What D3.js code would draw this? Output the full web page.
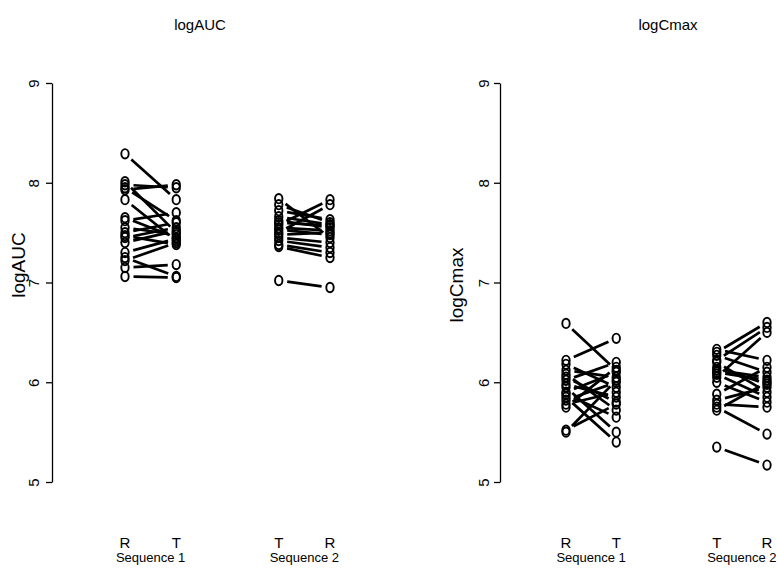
<!DOCTYPE html>
<html>
<head>
<meta charset="utf-8">
<script src="https://cdn.jsdelivr.net/npm/d3@7"></script>
<style>
  body { margin: 0; background: #fff; }
  text { font-family: "Liberation Sans", Arial, sans-serif; fill: #000; }
</style>
</head>
<body>
<svg id="chart" width="778" height="569"></svg>
<script>
// tick values shared by both panels
const yTicks = [5, 6, 7, 8, 9];
const periodLabels = ["R", "T", "T", "R"];
const seqLabels = ["Sequence 1", "Sequence 2"];

// logAUC, sequence 1: period 1 = R, period 2 = T
const aucSeq1R = [8.29, 8.01, 7.98, 7.95, 7.93, 7.83, 7.65, 7.62, 7.55, 7.50, 7.47, 7.45, 7.40, 7.30, 7.25, 7.22, 7.15, 7.06];
const aucSeq1T = [7.83, 7.50, 7.95, 7.62, 7.98, 7.42, 7.45, 7.70, 7.48, 7.60, 7.38, 7.55, 7.52, 7.44, 7.06, 7.40, 7.18, 7.05];
// logAUC, sequence 2: period 1 = T, period 2 = R
const aucSeq2T = [7.84, 7.78, 7.72, 7.66, 7.62, 7.58, 7.55, 7.50, 7.48, 7.45, 7.42, 7.38, 7.36, 7.02, 7.60, 7.53];
const aucSeq2R = [7.45, 7.60, 7.63, 7.58, 7.55, 7.83, 7.52, 7.78, 7.50, 7.40, 7.35, 7.30, 7.25, 6.95, 7.57, 7.48];

// logCmax
const cmaxSeq1R = [6.59, 6.22, 6.18, 6.12, 6.08, 6.02, 5.98, 5.95, 5.90, 5.85, 5.82, 5.78, 5.75, 5.52, 5.50, 6.05, 5.88];
const cmaxSeq1T = [6.12, 6.44, 5.95, 6.05, 5.72, 6.20, 5.85, 5.50, 6.10, 5.40, 6.00, 5.90, 6.15, 5.78, 6.02, 5.80, 5.65];
const cmaxSeq2T = [6.33, 6.30, 6.27, 6.22, 6.15, 6.12, 6.08, 6.05, 6.00, 5.88, 5.82, 5.75, 5.72, 5.35, 6.20, 6.10, 5.78];
const cmaxSeq2R = [6.22, 6.60, 6.10, 6.55, 5.98, 6.05, 5.85, 6.50, 5.80, 6.15, 5.95, 5.48, 6.00, 5.17, 5.90, 6.02, 5.75];

const svg = d3.select("#chart");

const y = d3.scaleLinear().domain([5, 9]).range([482, 83]);

const panels = [
  { title: "logAUC", axisX: 52, tickLabX: 34, ylabX: 18, ylabY: 265, titleX: 200,
    xr: [125, 330], s1: [aucSeq1R, aucSeq1T], s2: [aucSeq2T, aucSeq2R] },
  { title: "logCmax", axisX: 500, tickLabX: 484, ylabX: 456, ylabY: 285, titleX: 668,
    xr: [566, 767], s1: [cmaxSeq1R, cmaxSeq1T], s2: [cmaxSeq2T, cmaxSeq2R] }
];

// line with a gap around each point, like R type="b"
function gapLine(x1, y1, x2, y2, gap) {
  const dx = x2 - x1, dy = y2 - y1, len = Math.sqrt(dx * dx + dy * dy);
  if (len <= 2 * gap) return null;
  const ux = dx / len, uy = dy / len;
  return [x1 + ux * gap, y1 + uy * gap, x2 - ux * gap, y2 - uy * gap];
}

panels.forEach(p => {
  const x = d3.scaleLinear().domain([1, 5]).range(p.xr);
  const g = svg.append("g");

  g.append("text")
    .attr("x", p.titleX).attr("y", 30)
    .attr("text-anchor", "middle")
    .style("font-size", "15px")
    .text(p.title);

  // y axis
  const ax = g.append("g")
    .attr("transform", `translate(${p.axisX},0)`)
    .call(d3.axisLeft(y).tickValues(yTicks).tickSize(6).tickSizeOuter(0).tickFormat(d3.format("d")));
  ax.select(".domain").attr("stroke", "#000").attr("stroke-width", 1.3);
  ax.selectAll(".tick line").attr("stroke", "#000").attr("stroke-width", 1.3);
  ax.selectAll(".tick text")
    .attr("x", null).attr("dy", null)
    .attr("text-anchor", "middle")
    .attr("transform", `translate(${p.tickLabX - p.axisX + 5},0) rotate(-90)`)
    .style("font-size", "15px");

  g.append("text")
    .attr("transform", `translate(${p.ylabX + 7},${p.ylabY}) rotate(-90)`)
    .attr("text-anchor", "middle")
    .style("font-size", "19px")
    .text(p.title);

  // x labels
  const xs = [1, 2, 4, 5];
  g.selectAll(".plab").data(xs).enter().append("text")
    .attr("x", d => x(d)).attr("y", 548)
    .attr("text-anchor", "middle")
    .style("font-size", "15px")
    .text((d, i) => periodLabels[i]);
  g.selectAll(".slab").data([1.5, 4.5]).enter().append("text")
    .attr("x", d => x(d)).attr("y", 562)
    .attr("text-anchor", "middle")
    .style("font-size", "13px")
    .text((d, i) => seqLabels[i]);

  // paired lines and points
  [[p.s1, 1], [p.s2, 4]].forEach(([s, x0]) => {
    const pairs = s[0].map((v, i) => [v, s[1][i]]);
    pairs.forEach(([a, b]) => {
      const seg = gapLine(x(x0), y(a), x(x0 + 1), y(b), 8.5);
      if (seg) g.append("line")
        .attr("x1", seg[0]).attr("y1", seg[1]).attr("x2", seg[2]).attr("y2", seg[3])
        .attr("stroke", "#000").attr("stroke-width", 2.7);
    });
    [0, 1].forEach(k => {
      g.selectAll(null).data(s[k]).enter().append("ellipse")
        .attr("cx", x(x0 + k)).attr("cy", d => y(d))
        .attr("rx", 3.7).attr("ry", 4.7)
        .attr("fill", "none").attr("stroke", "#000").attr("stroke-width", 1.9);
    });
  });
});
</script>
</body>
</html>
